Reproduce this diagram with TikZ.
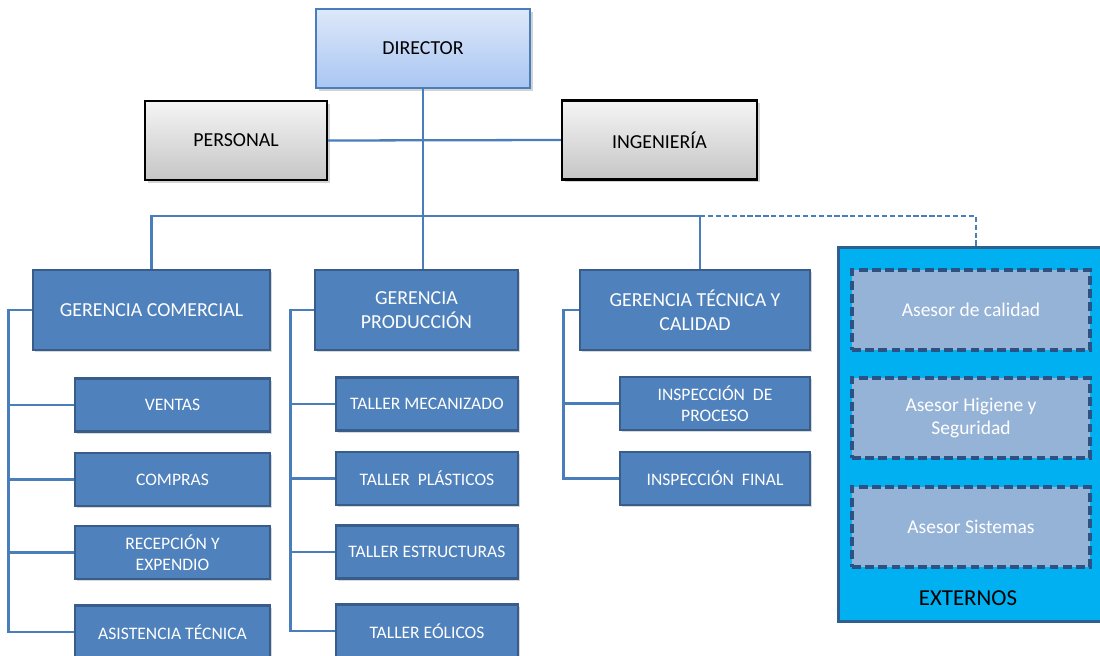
\documentclass[tikz,border=0pt]{standalone}
\usepackage{fontspec}
\setmainfont{Carlito}
\usepackage{tikz}
\usetikzlibrary{shadows}

\definecolor{boxblue}{HTML}{4F81BD}
\definecolor{boxedge}{HTML}{385D8A}
\definecolor{linkblue}{HTML}{4A7EBB}
\definecolor{extfill}{HTML}{00B0F0}
\definecolor{extedge}{HTML}{2F5F8F}
\definecolor{asefill}{HTML}{95B3D7}
\definecolor{aseedge}{HTML}{2B5283}
\definecolor{dirtop}{HTML}{DDE8FA}
\definecolor{dirbot}{HTML}{A9C6F2}

\begin{document}
\begin{tikzpicture}[x=0.02cm,y=-0.02cm,
  link/.style={line width=1.3pt, linkblue},
  dirbox/.style={draw=linkblue, line width=1pt, top color=dirtop, bottom color=dirbot,
    minimum width=4.28cm, minimum height=1.58cm, font=\fontsize{11.3}{13.6}\selectfont,
    drop shadow={shadow xshift=1.5pt,shadow yshift=-1.5pt,opacity=0.35}},
  greybox/.style={draw=black, line width=1.2pt, top color=gray!8, bottom color=gray!45,
    minimum height=1.58cm, font=\fontsize{11.3}{13.6}\selectfont,
    drop shadow={shadow xshift=1.5pt,shadow yshift=-1.5pt,opacity=0.35}},
  gerbox/.style={draw=boxedge, line width=1.6pt, fill=boxblue, text=white, align=center,
    minimum width=#1, minimum height=1.6cm, font=\fontsize{11.3}{13.6}\selectfont,
    drop shadow={shadow xshift=1.2pt,shadow yshift=-1.2pt,opacity=0.3}},
  subbox/.style={draw=boxedge, line width=1.6pt, fill=boxblue, text=white, align=center,
    minimum width=#1, minimum height=1.06cm, font=\fontsize{10}{12}\selectfont,
    drop shadow={shadow xshift=1.2pt,shadow yshift=-1.2pt,opacity=0.3}},
  asebox/.style={draw=aseedge, line width=2pt, dash pattern=on 5pt off 2.5pt, fill=asefill,
    text=white, align=center, minimum width=4.76cm, minimum height=1.6cm,
    font=\fontsize{11.1}{13.6}\selectfont}]
\clip (0,0) rectangle (1100,656);

% top
\node[dirbox] (dir) at (423,48.5) {DIRECTOR};
\node[greybox, minimum width=3.64cm] (pers) at (236,140.5) {PERSONAL};
\node[greybox, minimum width=3.9cm] (ing) at (659.5,140) {INGENIERÍA};

% gerencias
\node[gerbox=4.74cm] (gc) at (151.5,310) {GERENCIA COMERCIAL};
\node[gerbox=4.06cm] (gp) at (416.5,310) {GERENCIA\\PRODUCCIÓN};
\node[gerbox=4.6cm] (gt) at (695,310) {GERENCIA TÉCNICA Y\\CALIDAD};

% externos
\node[draw=extedge, line width=1.7pt, fill=extfill, minimum width=5.52cm, minimum height=7.5cm] (ext) at (976,434.5) {};
\node[asebox] (cal) at (971,310) {Asesor de calidad};
\node[asebox] (hig) at (971,418) {Asesor Higiene y\\Seguridad};
\node[asebox] (sis) at (971,527) {Asesor Sistemas};
\node[font=\fontsize{13}{15}\selectfont] (extlbl) at (968,598) {EXTERNOS};

% comercial
\node[subbox=3.9cm] (ven) at (172.5,405) {VENTAS};
\node[subbox=3.9cm] (com) at (172.5,479.5) {COMPRAS};
\node[subbox=3.9cm] (rec) at (172.5,552.5) {RECEPCIÓN Y\\EXPENDIO};
\node[subbox=3.9cm] (asi) at (172.5,632) {ASISTENCIA TÉCNICA};

% produccion
\node[subbox=3.64cm] (mec) at (427,404) {TALLER MECANIZADO};
\node[subbox=3.64cm] (pla) at (427,478.5) {TALLER\ \ PLÁSTICOS};
\node[subbox=3.64cm] (est) at (427,552) {TALLER ESTRUCTURAS};
\node[subbox=3.64cm] (eol) at (427,631) {TALLER EÓLICOS};

% tecnica
\node[subbox=3.8cm] (ipr) at (715,403.5) {INSPECCIÓN\ \ DE\\PROCESO};
\node[subbox=3.8cm] (ifi) at (715,478.5) {INSPECCIÓN\ \ FINAL};

% links
\coordinate (bus) at (424,216);
\coordinate (gttop) at ([xshift=0.1cm]gt.north);
\draw[link] (dir.south) -- (dir.south |- gp.north);
\draw[link] (pers.east) -- (ing.west);
\draw[link] (gc.north) |- (bus) -| (gttop);
\draw[link, dash pattern=on 3pt off 1.5pt] (gttop |- bus) -| (ext.north);
\foreach \s in {ven,com,rec,asi}
  \draw[link] (gc.west) -- ++(-23,0) |- (\s.west);
\foreach \s in {mec,pla,est,eol}
  \draw[link] (gp.west) -- ++(-23,0) |- (\s.west);
\foreach \s in {ipr,ifi}
  \draw[link] (gt.west) -- ++(-15,0) |- (\s.west);
\end{tikzpicture}
\end{document}
